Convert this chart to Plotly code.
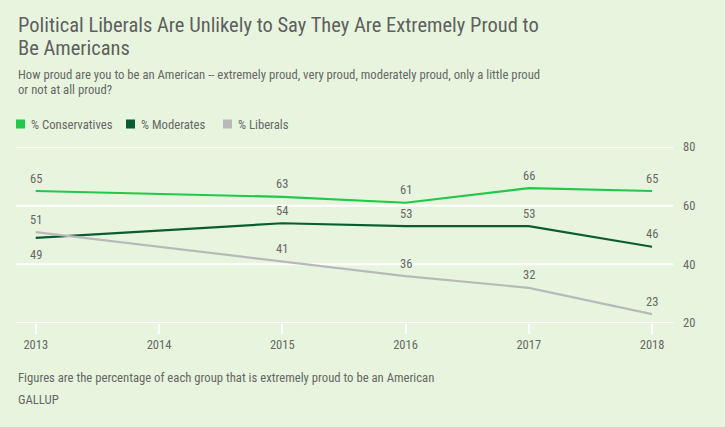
import plotly.graph_objects as go

years = [2013, 2015, 2016, 2017, 2018]
conservatives = [65, 63, 61, 66, 65]
moderates = [49, 54, 53, 53, 46]
liberals = [51, 41, 36, 32, 23]
x_ticks = [2013, 2014, 2015, 2016, 2017, 2018]
y_ticks = [20, 40, 60, 80]

series_names = ["% Conservatives", "% Moderates", "% Liberals"]
colors = ["#22c84a", "#0a5c32", "#b9b9b9"]

FONT = "Roboto Condensed, Liberation Sans Narrow, DejaVu Sans Condensed, Roboto, sans-serif"
TXT = "#676767"
BG = "#e8f5de"

W, H = 725, 427
L, R, T, B = 16, 52, 147, 104
PW, PH = W - L - R, H - T - B

fig = go.Figure()

# label offsets: positive = above the point
label_shift = {
    0: [13, 13, 13, 13, 13],
    1: [-17, 13, 13, 13, 13],
    2: [13, 13, 13, 13, 13],
}

ann_list = []
for i, (name, vals) in enumerate(zip(series_names, [conservatives, moderates, liberals])):
    fig.add_trace(go.Scatter(
        x=years, y=vals, mode="lines", name=name,
        line=dict(color=colors[i], width=2.2),
        showlegend=False, hoverinfo="skip",
    ))
    for j, (xv, yv) in enumerate(zip(years, vals)):
        ann_list.append(dict(x=xv, y=yv, xref="x", yref="y", text=str(yv),
                             showarrow=False, yshift=label_shift[i][j],
                             xanchor="center", yanchor="middle",
                             font=dict(family=FONT, size=12.5, color=TXT)))

# gridlines drawn from the y tick list
for t in y_ticks:
    fig.add_shape(type="line", xref="paper", yref="y", x0=0, x1=1, y0=t, y1=t,
                  line=dict(color="white", width=2), layer="below")

fig.update_layout(
    width=W, height=H,
    paper_bgcolor=BG, plot_bgcolor=BG,
    margin=dict(l=L, r=R, t=T, b=B),
    font=dict(family=FONT, color=TXT, size=12.5),
    xaxis=dict(range=[2012.84, 2018.17], tickvals=x_ticks, ticktext=[str(t) for t in x_ticks],
               showgrid=False, zeroline=False, showline=False,
               ticks="outside", ticklen=10, tickwidth=2, tickcolor="white",
               tickfont=dict(family=FONT, size=12.5, color=TXT)),
    yaxis=dict(range=[20, 80], tickvals=y_ticks, side="right",
               showgrid=False, zeroline=False, showline=False, ticks="", ticklabelstandoff=9,
               tickfont=dict(family=FONT, size=12.5, color=TXT)),
)


def px(xp):
    return (xp - L) / PW


def py(yp):
    return 1 - (yp - T) / PH


texts = [
    ("Political Liberals Are Unlikely to Say They Are Extremely Proud to", 25, 20.5, "#5f5f5f"),
    ("Be Americans", 48, 20.5, "#5f5f5f"),
    ("How proud are you to be an American -- extremely proud, very proud, moderately proud, only a little proud", 75, 12.7, TXT),
    ("or not at all proud?", 89, 12.7, TXT),
    ("Figures are the percentage of each group that is extremely proud to be an American", 377, 12.7, TXT),
    ("GALLUP", 399, 12.7, TXT),
]
for txt, yy, sz, col in texts:
    ann_list.append(dict(text=txt, xref="paper", yref="paper",
                         x=px(16), xanchor="left", y=py(yy), yanchor="middle",
                         showarrow=False, align="left",
                         font=dict(size=sz, color=col, family=FONT)))

# legend
leg_x = [16, 126, 223]
for i, name in enumerate(series_names):
    xp = px(leg_x[i])
    yp = py(124)
    fig.add_shape(type="rect", xref="paper", yref="paper",
                  x0=xp, x1=xp + 9 / PW, y0=yp - 4.5 / PH, y1=yp + 4.5 / PH,
                  fillcolor=colors[i], line=dict(width=0))
    ann_list.append(dict(text=name, xref="paper", yref="paper", x=xp + 13 / PW,
                         xanchor="left", y=yp, yanchor="middle", showarrow=False,
                         font=dict(size=12.7, color=TXT, family=FONT)))

fig.update_layout(annotations=ann_list)
fig.write_html("out.html", config={"displayModeBar": False},
               post_script="document.body.style.margin='0';document.body.style.background='%s';" % BG)
